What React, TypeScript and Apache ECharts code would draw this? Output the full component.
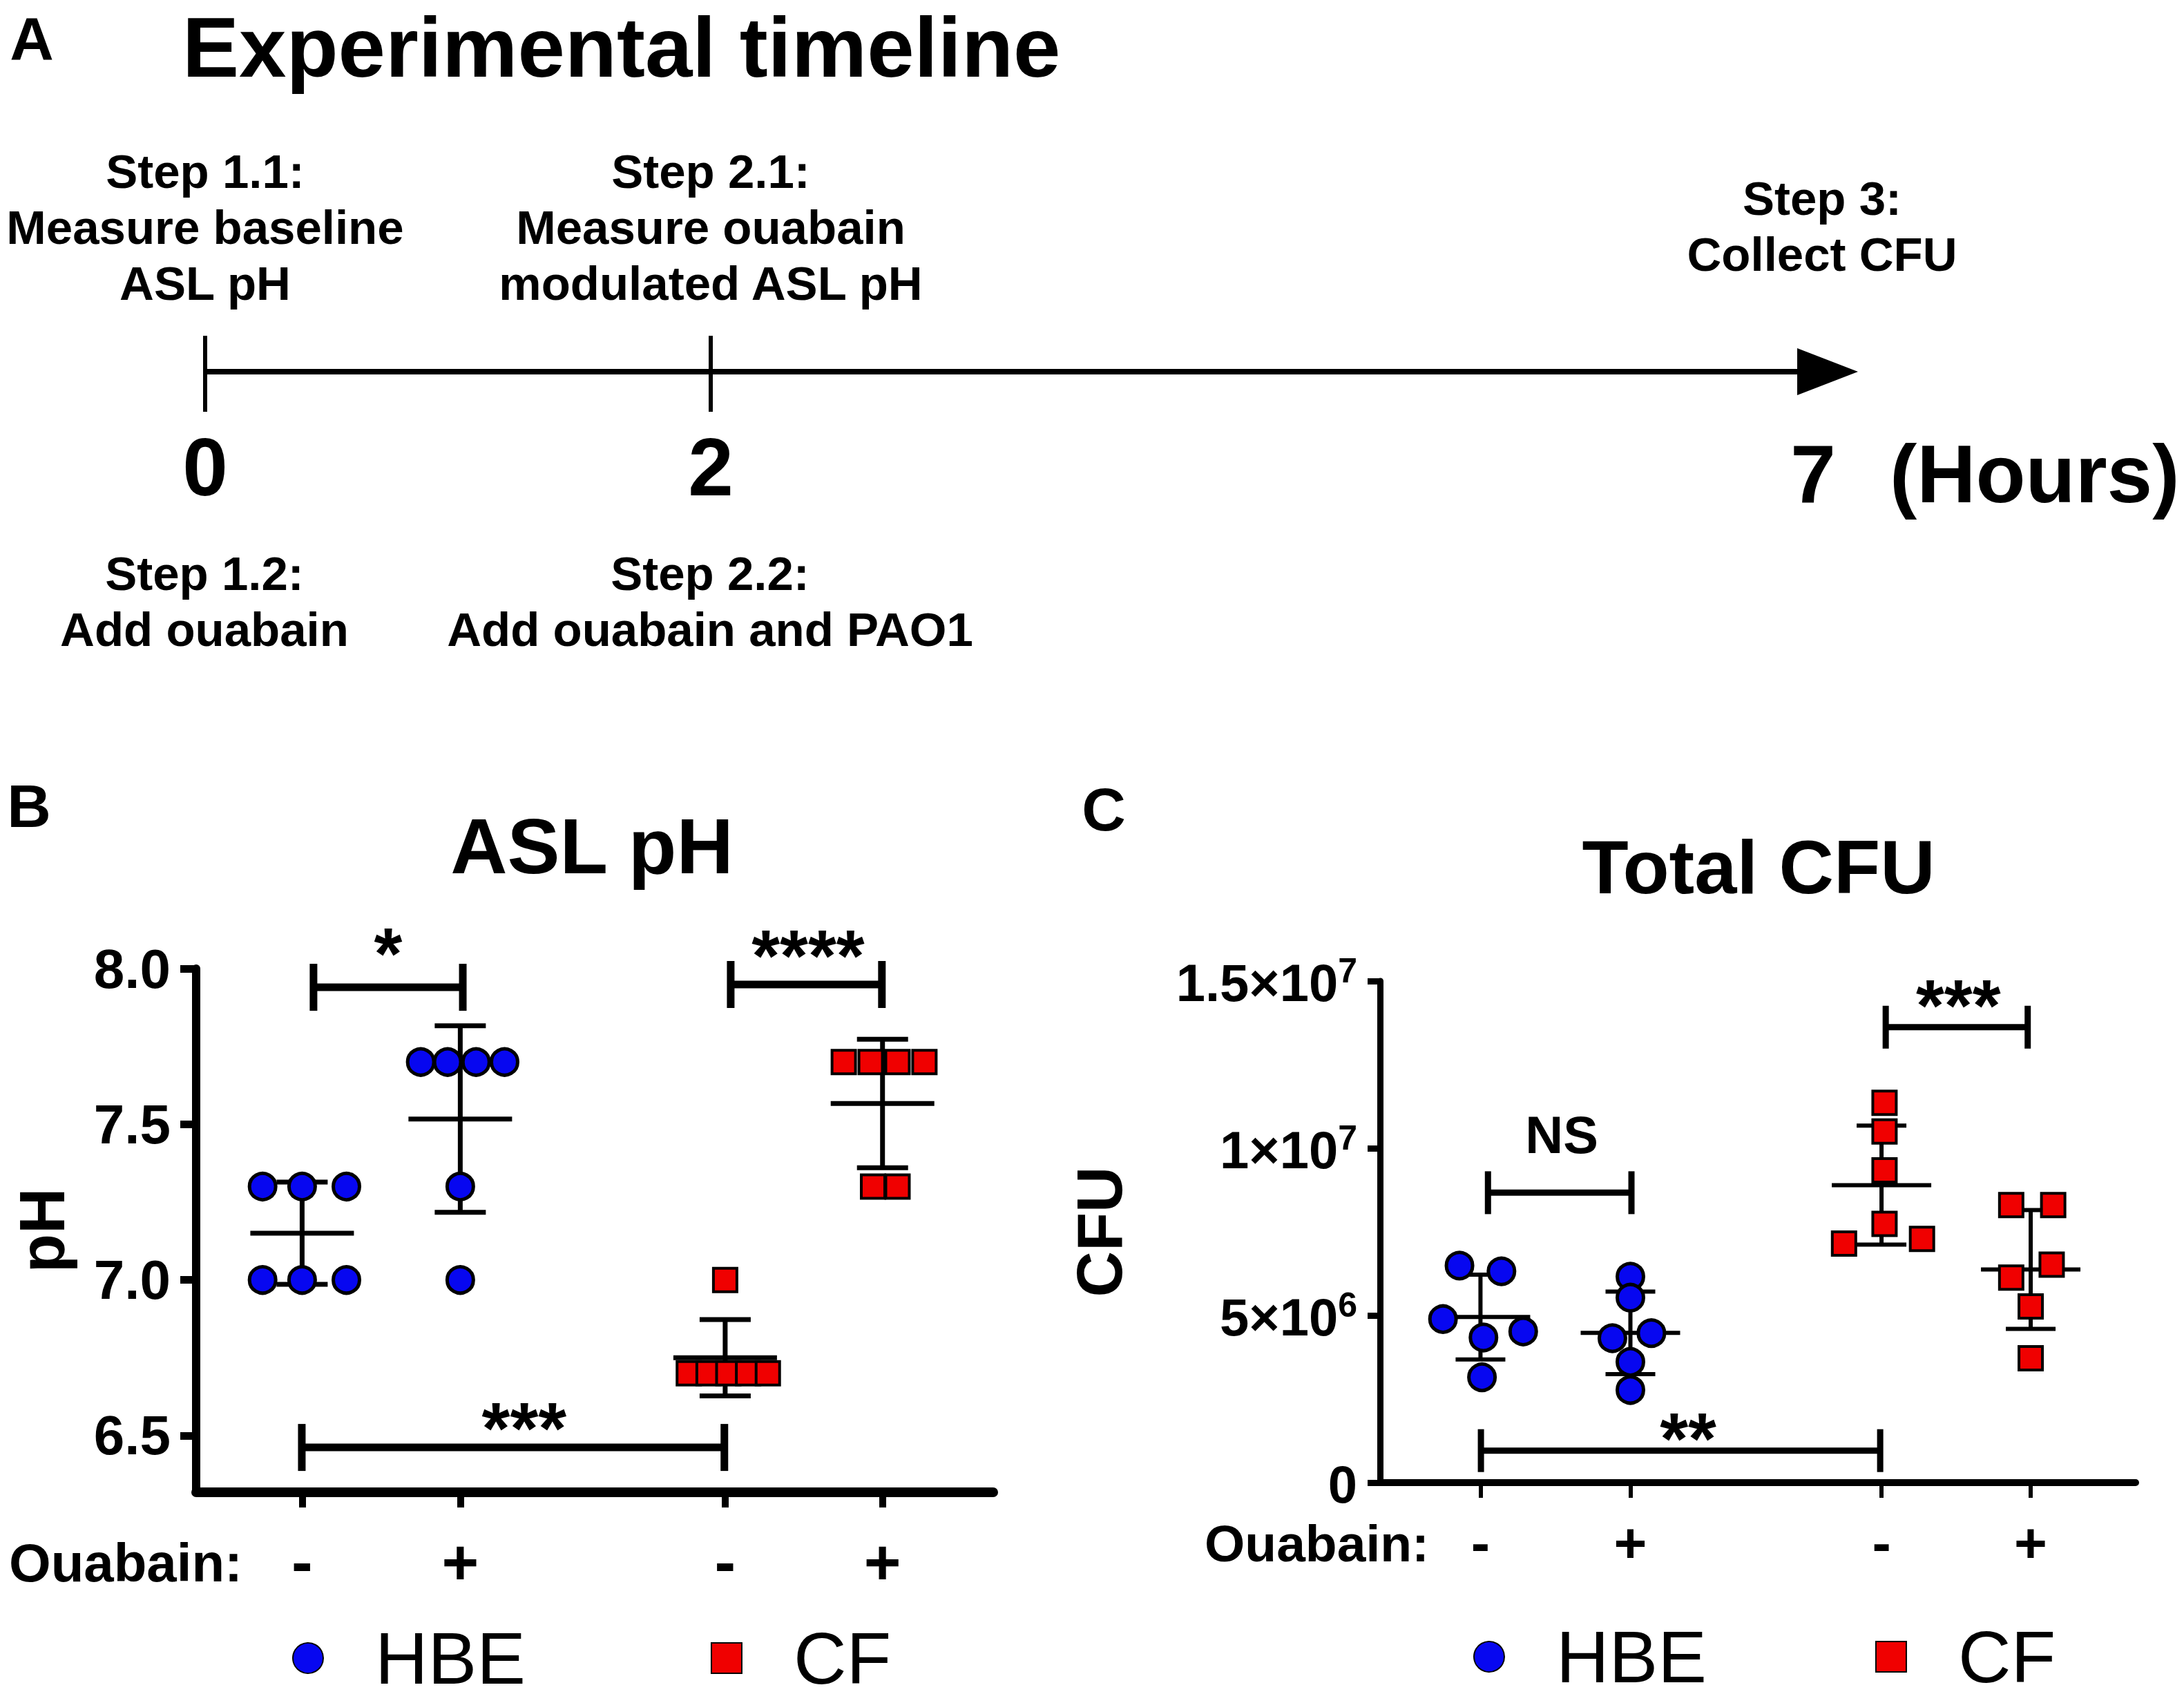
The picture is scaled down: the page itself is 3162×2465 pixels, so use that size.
import React, { useEffect, useRef } from 'react';
import * as echarts from 'echarts';

const FONT = '"Liberation Sans", Arial, Helvetica, sans-serif';
const BLUE = '#0707f0';
const RED = '#f00000';

// ---------- Panel A : timeline ----------
const timeTicks = ['0', '2', '7'];
const hoursUnit = '(Hours)';
const stepsAbove = [
  'Step 1.1:\nMeasure baseline\nASL pH',
  'Step 2.1:\nMeasure ouabain\nmodulated ASL pH',
  'Step 3:\nCollect CFU',
];
const stepsBelow = ['Step 1.2:\nAdd ouabain', 'Step 2.2:\nAdd ouabain and PAO1'];

// ---------- shared group info ----------
const ouabainSigns = ['-', '+', '-', '+'];
const cellTypes = ['HBE', 'CF'];

// ---------- Panel B : ASL pH ----------
const phHbeMinus = [7.3, 7.3, 7.3, 7.0, 7.0, 7.0];
const phHbePlus = [7.7, 7.7, 7.7, 7.7, 7.3, 7.0];
const phCfMinus = [7.0, 6.7, 6.7, 6.7, 6.7, 6.7];
const phCfPlus = [7.7, 7.7, 7.7, 7.7, 7.3, 7.3];
const phTicks = [6.5, 7.0, 7.5, 8.0];
const sigLabelsB = ['*', '****', '***'];

// ---------- Panel C : Total CFU ----------
const cfuHbeMinus = [6.49e6, 6.32e6, 4.89e6, 4.52e6, 4.34e6, 3.15e6];
const cfuHbePlus = [6.16e6, 5.53e6, 4.47e6, 4.32e6, 3.61e6, 2.77e6];
const cfuCfMinus = [11.36e6, 10.5e6, 9.34e6, 7.74e6, 7.29e6, 7.15e6];
const cfuCfPlus = [8.3e6, 8.3e6, 6.52e6, 6.13e6, 5.27e6, 3.72e6];
const cfuTicks = [0, 5e6, 1e7, 1.5e7];
const sigLabelsC = ['NS', '***', '**'];

// ---------- layout (positions only) ----------
const groupX = [0.67, 1.67, 3.345, 4.34];
const X_MAX = 5.04;
const phJitter = [
  [-0.25, 0, 0.28, -0.25, 0, 0.28],
  [-0.25, -0.08, 0.1, 0.28, 0, 0],
  [0, -0.23, -0.105, 0.02, 0.145, 0.27],
  [-0.245, -0.075, 0.095, 0.265, -0.06, 0.095],
];
const cfuJitter = [
  [-0.14, 0.14, -0.25, 0.285, 0.02, 0.01],
  [0, 0, 0.14, -0.12, 0, 0],
  [0.02, 0.02, 0.02, 0.02, 0.27, -0.25],
  [-0.13, 0.15, 0.14, -0.13, 0, 0],
];
// bracket annotations: [xFrom, xTo, yLine, labelX, labelY]
const bracketsB = [
  [0.742, 1.686, 7.94, 1.214, 8.047],
  [3.38, 4.336, 7.949, 3.869, 8.04],
  [0.668, 3.34, 6.462, 2.074, 6.524],
];
const bracketsC = [
  [0.72, 1.677, 8.67e6, 1.212, 10.41e6],
  [3.373, 4.32, 13.62e6, 3.857, 14.26e6],
  [0.673, 3.336, 0.957e6, 2.055, 1.32e6],
];
const sigFontB = [105, 105, 105];
const sigFontC = [76, 105, 105];

function meanSd(v: number[]) {
  const m = v.reduce((a, b) => a + b, 0) / v.length;
  const sd = Math.sqrt(v.reduce((a, b) => a + (b - m) ** 2, 0) / (v.length - 1));
  return [m, sd];
}

function points(groups: number[][], jitter: number[][], idx: number[]) {
  return idx.flatMap((g) => groups[g].map((v, i) => [groupX[g] + jitter[g][i], v]));
}

function errorRows(groups: number[][]) {
  return groups.map((g, i) => {
    const [m, sd] = meanSd(g);
    return [groupX[i], m, m - sd, m + sd];
  });
}

const errorBarRender = (half: number, cap: number, lw: number) => (params: any, api: any) => {
  const x = api.value(0);
  const pm = api.coord([x, api.value(1)]);
  const pl = api.coord([x, api.value(2)]);
  const ph = api.coord([x, api.value(3)]);
  const style = { stroke: '#000', lineWidth: lw, fill: null };
  return {
    type: 'group',
    children: [
      { type: 'line', shape: { x1: pm[0] - half, y1: pm[1], x2: pm[0] + half, y2: pm[1] }, style },
      { type: 'line', shape: { x1: ph[0], y1: ph[1], x2: pl[0], y2: pl[1] }, style },
      { type: 'line', shape: { x1: ph[0] - cap, y1: ph[1], x2: ph[0] + cap, y2: ph[1] }, style },
      { type: 'line', shape: { x1: pl[0] - cap, y1: pl[1], x2: pl[0] + cap, y2: pl[1] }, style },
    ],
  };
};

const bracketRender = (labels: string[], fonts: number[], endHalf: number, lw: number) => (params: any, api: any) => {
  const p1 = api.coord([api.value(0), api.value(2)]);
  const p2 = api.coord([api.value(1), api.value(2)]);
  const pt = api.coord([api.value(3), api.value(4)]);
  const style = { stroke: '#000', lineWidth: lw, fill: null };
  return {
    type: 'group',
    children: [
      { type: 'line', shape: { x1: p1[0], y1: p1[1], x2: p2[0], y2: p2[1] }, style },
      { type: 'line', shape: { x1: p1[0], y1: p1[1] - endHalf, x2: p1[0], y2: p1[1] + endHalf }, style },
      { type: 'line', shape: { x1: p2[0], y1: p2[1] - endHalf, x2: p2[0], y2: p2[1] + endHalf }, style },
      {
        type: 'text',
        x: pt[0],
        y: pt[1],
        style: {
          text: labels[params.dataIndex],
          fontSize: fonts[params.dataIndex],
          fontWeight: 'bold',
          fontFamily: FONT,
          fill: '#000',
          align: 'center',
          verticalAlign: 'middle',
        },
      },
    ],
  };
};

function txt(text: string, x: number, y: number, fontSize: number, opts: any = {}) {
  return {
    type: 'text',
    x,
    y,
    style: {
      text,
      fontSize,
      fontWeight: opts.weight || 'bold',
      fontFamily: FONT,
      fill: '#000',
      align: opts.align || 'center',
      verticalAlign: 'middle',
      lineHeight: opts.lineHeight,
    },
  };
}

function nearestSign(v: number) {
  let best = -1;
  let d = 1e9;
  groupX.forEach((g, i) => {
    if (Math.abs(g - v) < d) {
      d = Math.abs(g - v);
      best = i;
    }
  });
  return d < 0.01 ? ouabainSigns[best] : '';
}

function sciLabel(v: number) {
  if (v === 0) return '{m|0}';
  const e = Math.floor(Math.log10(v) + 1e-9);
  const mant = +(v / 10 ** e).toFixed(2);
  return `{m|${mant}×10}{s|${e}}`;
}

export default function App() {
  const ref = useRef<HTMLDivElement>(null);

  useEffect(() => {
    if (!ref.current) return;
    const chart = echarts.init(ref.current, null, { renderer: 'svg' });
    const phGroups = [phHbeMinus, phHbePlus, phCfMinus, phCfPlus];
    const cfuGroups = [cfuHbeMinus, cfuHbePlus, cfuCfMinus, cfuCfPlus];

    const timeX = [297, 1029, 2625];
    const stepAboveX = [297, 1029, 2638];
    const stepAboveY = [329, 329, 328];
    const stepBelowX = [296, 1028];

    const graphic: any[] = [
      txt('A', 46, 55, 88),
      txt('B', 42, 1166, 88),
      txt('C', 1598, 1171, 88),
      txt('Experimental timeline', 264, 68, 123, { align: 'left' }),
      txt('ASL pH', 857, 1224, 114),
      txt('Total CFU', 2546, 1254, 110),
      txt('Ouabain:', 13, 2262, 78, { align: 'left' }),
      txt('Ouabain:', 1744, 2234, 75, { align: 'left' }),
      { type: 'line', shape: { x1: 297, y1: 538, x2: 2610, y2: 538 }, style: { stroke: '#000', lineWidth: 8 } },
      { type: 'line', shape: { x1: 297, y1: 486, x2: 297, y2: 596 }, style: { stroke: '#000', lineWidth: 6 } },
      { type: 'line', shape: { x1: 1029, y1: 486, x2: 1029, y2: 596 }, style: { stroke: '#000', lineWidth: 6 } },
      { type: 'polygon', shape: { points: [[2602, 504], [2690, 538], [2602, 572]] }, style: { fill: '#000' } },
      txt(timeTicks[0], timeX[0], 676, 118),
      txt(timeTicks[1], timeX[1], 676, 118),
      txt(timeTicks[2], timeX[2], 686, 118),
      txt(hoursUnit, 2736, 686, 118, { align: 'left' }),
      ...stepsAbove.map((s, i) => txt(s, stepAboveX[i], stepAboveY[i], 69, { lineHeight: 81 })),
      ...stepsBelow.map((s, i) => txt(s, stepBelowX[i], 871, 69, { lineHeight: 81 })),
    ];

    const axisLabelBase = { color: '#000', fontWeight: 'bold', fontFamily: FONT };
    const legendText = { fontSize: 106, fontFamily: FONT, color: '#000', padding: [0, 0, 0, 70], lineHeight: 100 };

    const option: any = {
      animation: false,
      backgroundColor: '#fff',
      grid: [
        { left: 284, top: 1402, right: 3162 - 1438, bottom: 2465 - 2160, outerBoundsMode: 'none' },
        { left: 1998, top: 1420, right: 3162 - 3092, bottom: 2465 - 2146, outerBoundsMode: 'none' },
      ],
      xAxis: [
        {
          type: 'value', gridIndex: 0, min: 0, max: X_MAX,
          splitLine: { show: false },
          axisLine: { show: true, onZero: false, lineStyle: { color: '#000', width: 14 } },
          axisTick: { show: true, customValues: groupX, length: 22, lineStyle: { color: '#000', width: 10 } },
          axisLabel: { show: true, customValues: groupX, formatter: (v: number) => nearestSign(v), fontSize: 92, margin: 55, ...axisLabelBase },
        },
        {
          type: 'value', gridIndex: 1, min: 0, max: X_MAX,
          splitLine: { show: false },
          axisLine: { show: true, onZero: false, lineStyle: { color: '#000', width: 10 } },
          axisTick: { show: true, customValues: groupX, length: 22, lineStyle: { color: '#000', width: 6 } },
          axisLabel: { show: true, customValues: groupX, formatter: (v: number) => nearestSign(v), fontSize: 82, margin: 45, ...axisLabelBase },
        },
      ],
      yAxis: [
        {
          type: 'value', gridIndex: 0, min: 6.318, max: 8.0,
          splitLine: { show: false },
          axisLine: { show: true, onZero: false, lineStyle: { color: '#000', width: 12 } },
          axisTick: { show: true, customValues: phTicks, length: 23, lineStyle: { color: '#000', width: 11 } },
          axisLabel: { show: true, customValues: phTicks, formatter: (v: number) => v.toFixed(1), fontSize: 80, margin: 37, ...axisLabelBase },
          name: 'pH', nameLocation: 'middle', nameRotate: 90, nameGap: 177,
          nameTextStyle: { fontSize: 92, fontWeight: 'bold', fontFamily: FONT, color: '#000' },
        },
        {
          type: 'value', gridIndex: 1, min: 0, max: 1.5e7, interval: 5e6,
          splitLine: { show: false },
          axisLine: { show: true, onZero: false, lineStyle: { color: '#000', width: 9 } },
          axisTick: { show: true, customValues: cfuTicks, length: 18, lineStyle: { color: '#000', width: 9 } },
          axisLabel: {
            show: true, customValues: cfuTicks, formatter: sciLabel, margin: 33,
            rich: {
              m: { fontSize: 76, fontWeight: 'bold', fontFamily: FONT, color: '#000', verticalAlign: 'bottom', lineHeight: 80 },
              s: { fontSize: 50, fontWeight: 'bold', fontFamily: FONT, color: '#000', verticalAlign: 'top', lineHeight: 50 },
            },
          },
          name: 'CFU', nameLocation: 'middle', nameRotate: 90, nameGap: 360,
          nameTextStyle: { fontSize: 92, fontWeight: 'bold', fontFamily: FONT, color: '#000' },
        },
      ],
      legend: [
        {
          data: cellTypes, left: 418, top: 2342, itemWidth: 44, itemHeight: 44, itemGap: 268, selectedMode: false,
          textStyle: legendText,
        },
        {
          data: cellTypes, left: 2128, top: 2340, itemWidth: 44, itemHeight: 44, itemGap: 244, selectedMode: false,
          textStyle: legendText,
        },
      ],
      graphic,
      series: [
        {
          type: 'custom', name: 'meanSD-B', xAxisIndex: 0, yAxisIndex: 0, clip: false, z: 2,
          renderItem: errorBarRender(75, 37, 7), data: errorRows(phGroups), encode: { x: 0, y: [1, 2, 3] },
        },
        {
          type: 'scatter', name: cellTypes[0], xAxisIndex: 0, yAxisIndex: 0, z: 4,
          symbol: 'circle', symbolSize: 38, data: points(phGroups, phJitter, [0, 1]),
          itemStyle: { color: BLUE, borderColor: '#000', borderWidth: 5, opacity: 1 },
        },
        {
          type: 'scatter', name: cellTypes[1], xAxisIndex: 0, yAxisIndex: 0, z: 4,
          symbol: 'rect', symbolSize: 34, data: points(phGroups, phJitter, [2, 3]),
          itemStyle: { color: RED, borderColor: '#000', borderWidth: 4, opacity: 1 },
        },
        {
          type: 'custom', name: 'sig-B', xAxisIndex: 0, yAxisIndex: 0, clip: false, z: 3,
          renderItem: bracketRender(sigLabelsB, sigFontB, 34, 11), data: bracketsB, encode: { x: [0, 1, 3], y: [2, 4] },
        },
        {
          type: 'custom', name: 'meanSD-C', xAxisIndex: 1, yAxisIndex: 1, clip: false, z: 2,
          renderItem: errorBarRender(72, 36, 6), data: errorRows(cfuGroups), encode: { x: 0, y: [1, 2, 3] },
        },
        {
          type: 'scatter', name: cellTypes[0], xAxisIndex: 1, yAxisIndex: 1, z: 4,
          symbol: 'circle', symbolSize: 38, data: points(cfuGroups, cfuJitter, [0, 1]),
          itemStyle: { color: BLUE, borderColor: '#000', borderWidth: 5, opacity: 1 },
        },
        {
          type: 'scatter', name: cellTypes[1], xAxisIndex: 1, yAxisIndex: 1, z: 4,
          symbol: 'rect', symbolSize: 34, data: points(cfuGroups, cfuJitter, [2, 3]),
          itemStyle: { color: RED, borderColor: '#000', borderWidth: 4, opacity: 1 },
        },
        {
          type: 'custom', name: 'sig-C', xAxisIndex: 1, yAxisIndex: 1, clip: false, z: 3,
          renderItem: bracketRender(sigLabelsC, sigFontC, 31, 9), data: bracketsC, encode: { x: [0, 1, 3], y: [2, 4] },
        },
      ],
    };

    chart.setOption(option);
    return () => chart.dispose();
  }, []);

  return (
    <div
      ref={ref}
      style={{ position: 'absolute', left: 0, top: 0, width: 3162, height: 2465, background: '#fff' }}
    />
  );
}
